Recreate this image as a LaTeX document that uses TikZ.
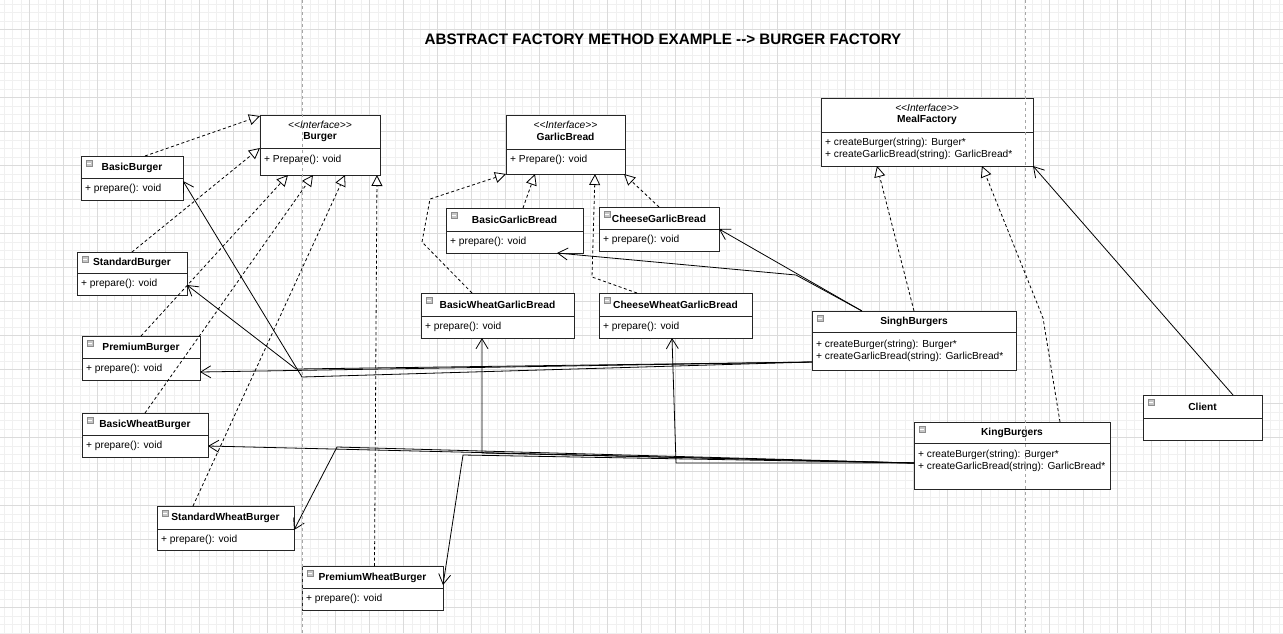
\documentclass[tikz,border=0pt]{standalone}
\usepackage{fontspec}
\setmainfont{Liberation Sans}
\usetikzlibrary{arrows.meta,calc}

\tikzset{
  classbox/.style={draw=black!85, line width=0.9pt, fill=white, inner sep=0pt, outer sep=0pt},
  boxline/.style={draw=black!85, line width=0.9pt},
  ctitle/.style={font=\fontsize{10.2}{12}\selectfont\bfseries, inner sep=0pt},
  cstereo/.style={font=\fontsize{10.2}{12}\selectfont\itshape, inner sep=0pt},
  cmeth/.style={font=\fontsize{10.2}{12}\selectfont, inner sep=0pt, align=left, anchor=west},
  iconbox/.style={draw=gray!90, fill=gray!45, minimum size=6.5pt, inner sep=0pt, outer sep=0pt},
  realize/.style={draw=black, line width=0.8pt, dash pattern=on 3pt off 2.5pt,
    -{Triangle[length=11pt,width=11pt,fill=white,line width=0.8pt]}},
  assoc/.style={draw=black, line width=0.8pt,
    -{Straight Barb[length=10pt,width=12pt,line width=0.8pt]}},
  minorgrid/.style={draw=black!6, line width=0.6pt},
  majorgrid/.style={draw=black!14, line width=0.8pt},
  pagebreak/.style={draw=black!35, line width=0.7pt, dash pattern=on 3pt off 3pt},
}

% #1 name #2 x1 #3 y1 #4 x2 #5 y2 #6 divider y #7 title #8 methods #9 methods y
\newcommand{\umlclass}[9]{%
  \node[classbox, minimum width={(#4-#2)*1pt}, minimum height={(#5-#3)*1pt}] (#1) at ({(#2+#4)/2},{(#3+#5)/2}) {};
  \draw[boxline] (#2,#6) -- (#4,#6);
  \node[iconbox] (#1-i) at ({#2+8},{#3+7}) {};
  \draw[white, line width=1pt] ([xshift=1.2pt]#1-i.west) -- ([xshift=-1.2pt]#1-i.east);
  \node[ctitle] (#1-t) at ({(#2+#4)/2},{(#3+#6)/2+0.5}) {#7};
  \node[cmeth] (#1-m) at ({#2+4},#9) {#8};
}
\newcommand{\umliface}[9]{%
  \node[classbox, minimum width={(#4-#2)*1pt}, minimum height={(#5-#3)*1pt}] (#1) at ({(#2+#4)/2},{(#3+#5)/2}) {};
  \draw[boxline] (#2,#6) -- (#4,#6);
  \node[cstereo] (#1-s) at ({(#2+#4)/2},{#3+9.5}) {<\kern0pt<Interface>\kern0pt>};
  \node[ctitle] (#1-t) at ({(#2+#4)/2},{#3+22}) {#7};
  \node[cmeth] (#1-m) at ({#2+4},#9) {#8};
}

\begin{document}
\begin{tikzpicture}[x=1pt,y=-1pt]
\useasboundingbox (0,0) rectangle (1283,633);
\fill[white] (0,0) rectangle (1283,633);

% grid
\foreach \i in {0,...,150} {\draw[minorgrid] ({3.8+8.5*\i},0) -- ({3.8+8.5*\i},633);}
\foreach \j in {0,...,74} {\draw[minorgrid] (0,{3.8+8.5*\j}) -- (1283,{3.8+8.5*\j});}
\foreach \i in {0,...,36} {\draw[majorgrid] ({29.3+34*\i},0) -- ({29.3+34*\i},633);}
\foreach \j in {0,...,17} {\draw[majorgrid] (0,{29.3+34*\j}) -- (1283,{29.3+34*\j});}

% title
\node[font=\fontsize{15.2}{18}\selectfont\bfseries, inner sep=0pt] (title) at (663,39)
  {ABSTRACT FACTORY METHOD EXAMPLE -\kern0pt-\kern0pt> BURGER FACTORY};

% interfaces
\umliface{BU}{260}{115}{380}{175}{148}{Burger}{+ Prepare(): void}{160}
\umliface{GB}{506}{115}{625}{174}{149}{GarlicBread}{+ Prepare(): void}{160}
\umliface{MF}{821}{98}{1033}{166}{132}{MealFactory}{+ createBurger(string): Burger*\\+ createGarlicBread(string): GarlicBread*}{149}

% classes
\umlclass{BB}{81}{156}{183}{200}{178}{BasicBurger}{+ prepare(): void}{189}
\umlclass{SB}{77}{252}{187}{295}{273}{StandardBurger}{+ prepare(): void}{284}
\umlclass{PB}{82}{336}{200}{380}{358}{PremiumBurger}{+ prepare(): void}{369}
\umlclass{BWB}{82}{413}{208}{457}{435}{BasicWheatBurger}{+ prepare(): void}{446}
\umlclass{SWB}{157}{506}{294}{550}{529}{StandardWheatBurger}{+ prepare(): void}{540}
\umlclass{PWB}{302}{566}{443}{610}{588}{PremiumWheatBurger}{+ prepare(): void}{599}
\umlclass{BGB}{446}{208}{583}{253}{231}{BasicGarlicBread}{+ prepare(): void}{242}
\umlclass{CGB}{599}{207}{719}{251}{229}{CheeseGarlicBread}{+ prepare(): void}{240}
\umlclass{BWGB}{421}{293}{574}{338}{316}{BasicWheatGarlicBread}{+ prepare(): void}{327}
\umlclass{CWGB}{599}{293}{752}{338}{316}{CheeseWheatGarlicBread}{+ prepare(): void}{327}
\umlclass{SI}{812}{311}{1016}{370}{332}{SinghBurgers}{+ createBurger(string): Burger*\\+ createGarlicBread(string): GarlicBread*}{351}
\umlclass{KB}{914}{422}{1110}{489}{443}{KingBurgers}{+ createBurger(string): Burger*\\+ createGarlicBread(string): GarlicBread*}{461}
\umlclass{CL}{1143}{395}{1262}{440}{418}{Client}{}{429}

% realizations -> Burger
\draw[realize] ([xshift=13pt]BB.north) -- ([yshift=-1pt]BU.north west);
\draw[realize] (SB.north) -- ([yshift=-3pt]BU.west);
\draw[realize] (PB.north) -- ([xshift=-32pt]BU.south);
\draw[realize] (BWB.north) -- ([xshift=-7pt]BU.south);
\draw[realize] ([xshift=-32.5pt]SWB.north) -- ([xshift=25pt]BU.south);
\draw[realize] ([xshift=2pt]PWB.north) -- ([xshift=57pt]BU.south);

% realizations -> GarlicBread
\draw[realize] ([xshift=8.5pt]BGB.north) -- ([xshift=-30.5pt]GB.south);
\draw[realize] (CGB.north) -- ([xshift=-1pt]GB.south east);
\draw[realize] ([xshift=-25.5pt]BWGB.north) -- (422,242) -- (430,199) -- (GB.south west);
\draw[realize] ([xshift=-38.5pt]CWGB.north) -- (592,277) -- ([xshift=29.5pt]GB.south);

% realizations -> MealFactory
\draw[realize] (SI.north) -- ([xshift=-50pt]MF.south);
\draw[realize] ([xshift=48pt]KB.north) -- (1043,318) -- ([xshift=55pt]MF.south);

% client
\draw[assoc] ([xshift=30.5pt]CL.north) -- (MF.south east);

% SinghBurgers associations
\draw[assoc] ([xshift=-52pt]SI.north) -- (CGB.east);
\draw[assoc] ([xshift=-52pt]SI.north) -- (796,275) -- ([xshift=42.5pt]BGB.south);
\draw[assoc] ([yshift=-21.5pt]SI.west) -- ([yshift=-14pt]PB.east);
\draw[assoc] ([yshift=-21.5pt]SI.west) -- (296,369) -- ([yshift=-11.5pt]SB.east);
\draw[assoc] ([yshift=-21.5pt]SI.west) -- (302,377) -- ([yshift=-3pt]BB.east);

% KingBurgers associations
\draw[assoc] ([yshift=-7.5pt]KB.west) -- ([yshift=-11pt]BWB.east);
\draw[assoc] ([yshift=-7.5pt]KB.west) -- (337,447) -- ([yshift=-2pt]SWB.east);
\draw[assoc] ([yshift=-7.5pt]KB.west) -- (463,455) -- ([yshift=3pt]PWB.east);
\draw[assoc] ([yshift=-7.5pt]KB.west) -- (482,453) -- ([xshift=-15.5pt]BWGB.south);
\draw[assoc] ([yshift=-7.5pt]KB.west) -- (676,463) -- ([xshift=-3.5pt]CWGB.south);

% page breaks
\draw[pagebreak] (302,0) -- (302,633);
\draw[pagebreak] (1025,0) -- (1025,633);
\end{tikzpicture}
\end{document}
